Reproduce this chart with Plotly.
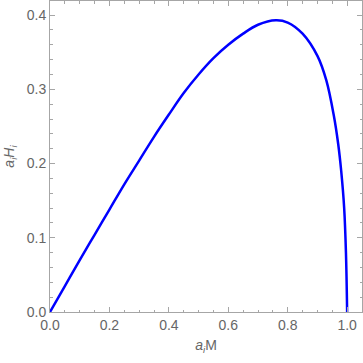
import plotly.graph_objects as go

# values
a_M = [0.0, 0.05, 0.1, 0.15, 0.2, 0.25, 0.3, 0.35, 0.4, 0.45, 0.5, 0.55, 0.6, 0.65, 0.7,
       0.76, 0.8, 0.85, 0.9, 0.93, 0.955, 0.97, 0.98, 0.99, 0.996, 1.0]
a_H = [0.0, 0.035, 0.07, 0.104, 0.138, 0.172, 0.204, 0.236, 0.266, 0.295, 0.32, 0.342, 0.36, 0.375, 0.387,
       0.393, 0.39, 0.375, 0.345, 0.312, 0.265, 0.226, 0.19, 0.14, 0.08, 0.0]

x_ticks = [0.0, 0.2, 0.4, 0.6, 0.8, 1.0]
y_ticks = [0.0, 0.1, 0.2, 0.3, 0.4]

fig = go.Figure()
fig.add_trace(go.Scatter(
    x=a_M, y=a_H, mode="lines",
    line=dict(color="#0000ff", width=2.5, shape="spline", smoothing=1),
    showlegend=False, hoverinfo="skip",
))

label_font = dict(family="Liberation Sans, Arial", size=14, color="#666666")
axis_common = dict(
    showgrid=False, zeroline=False, showline=True, linecolor="#a6a6a6", linewidth=1,
    mirror="ticks", ticks="inside", ticklen=5, tickcolor="#a6a6a6",
    tickfont=label_font, tickformat=".1f", automargin=False,
)

fig.update_layout(
    width=363, height=363,
    margin=dict(l=50, r=1, t=1, b=51, autoexpand=False),
    paper_bgcolor="white", plot_bgcolor="white",
    xaxis=dict(
        range=[0, 1.05], tickvals=x_ticks,
        minor=dict(dtick=0.05, ticks="inside", ticklen=2.5, tickcolor="#a6a6a6"),
        title=dict(text="<i>a</i><sub><i>i</i></sub>M", standoff=8, font=label_font),
        **axis_common,
    ),
    yaxis=dict(
        range=[0, 0.419], tickvals=y_ticks,
        minor=dict(dtick=0.02, ticks="inside", ticklen=2.5, tickcolor="#a6a6a6"),
        title=dict(text="<i>a</i><sub><i>i</i></sub><i>H</i><sub><i>i</i></sub>", standoff=8, font=label_font),
        **axis_common,
    ),
)

# drop the page's default body margin so the figure sits at the window's corner
fig.write_html("out.html", config={"displayModeBar": False},
               post_script="document.body.style.margin='0';")
